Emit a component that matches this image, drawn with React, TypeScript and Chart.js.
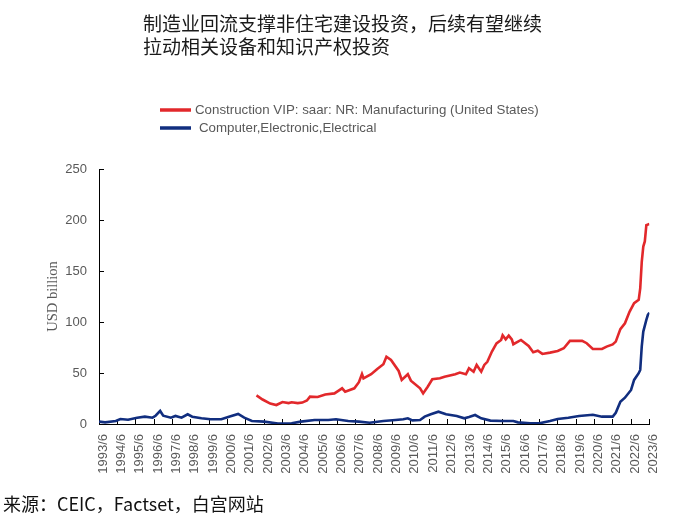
import React, { useEffect, useRef } from "react";
import { Chart, registerables } from "chart.js";

Chart.register(...registerables);

const titleLines = ["制造业回流支撑非住宅建设投资，后续有望继续", "拉动相关设备和知识产权投资"];
const sourceText = "来源：CEIC，Factset，白宫网站";
const yAxisTitle = "USD billion";
const seriesNames = [
  "Construction VIP: saar: NR: Manufacturing (United States)",
  "Computer,Electronic,Electrical",
];

const xTickLabels = [
  "1993/6", "1994/6", "1995/6", "1996/6", "1997/6", "1998/6", "1999/6", "2000/6",
  "2001/6", "2002/6", "2003/6", "2004/6", "2005/6", "2006/6", "2007/6", "2008/6",
  "2009/6", "2010/6", "2011/6", "2012/6", "2013/6", "2014/6", "2015/6", "2016/6",
  "2017/6", "2018/6", "2019/6", "2020/6", "2021/6", "2022/6", "2023/6",
];
const yTicks = [0, 50, 100, 150, 200, 250];

const redDates = [
  "2002/1", "2002/5", "2002/10", "2003/2", "2003/6", "2003/10", "2003/12", "2004/4", "2004/7", "2004/10",
  "2004/12", "2005/5", "2005/10", "2006/4", "2006/7", "2006/9", "2006/11", "2007/5", "2007/8", "2007/10",
  "2007/11", "2008/4", "2008/8", "2008/12", "2009/2", "2009/5", "2009/10", "2009/12", "2010/4", "2010/6",
  "2010/12", "2011/2", "2011/5", "2011/8", "2012/1", "2012/4", "2012/11", "2013/2", "2013/6", "2013/8",
  "2013/11", "2014/1", "2014/4", "2014/6", "2014/8", "2014/11", "2015/2", "2015/5", "2015/6", "2015/8",
  "2015/10", "2015/12", "2016/1", "2016/6", "2016/11", "2017/2", "2017/5", "2017/8", "2018/1", "2018/6",
  "2018/10", "2019/2", "2019/10", "2020/1", "2020/5", "2020/11", "2021/2", "2021/6", "2021/8", "2021/11",
  "2022/2", "2022/5", "2022/8", "2022/11", "2022/12", "2023/1", "2023/2", "2023/3", "2023/4", "2023/6",
];
const redValues = [
  28, 24, 20, 18.6, 21.5, 20.5, 21.3, 20.5, 21, 23,
  26.8, 26.5, 29, 30, 33, 35, 31.7, 35, 41, 49,
  44.8, 48.8, 54, 58.6, 66, 62.8, 52, 43.2, 48.8, 42.5,
  35, 30, 36.6, 43.9, 44.8, 46.4, 48.8, 50.4, 48.8, 54.6,
  51.3, 57.9, 51.3, 57.9, 61, 71, 79, 82.4, 87, 83,
  86.7, 83, 78.2, 82.4, 76.5, 70.4, 71.9, 68.7, 70, 71.6,
  74.3, 81.5, 81.5, 79.2, 73.6, 73.6, 75.9, 78, 80.8, 93,
  98.8, 110, 118.4, 121.7, 133, 159, 174, 179, 195, 196,
];

const blueDates = [
  "1993/6", "1993/10", "1994/5", "1994/8", "1995/1", "1995/7", "1995/12", "1996/5", "1996/7", "1996/10",
  "1996/12", "1997/5", "1997/8", "1997/12", "1998/4", "1998/7", "1999/1", "1999/7", "2000/2", "2000/7",
  "2001/1", "2001/5", "2001/10", "2002/6", "2003/3", "2003/12", "2004/6", "2005/3", "2005/12", "2006/5",
  "2007/1", "2007/8", "2008/3", "2008/12", "2009/8", "2010/1", "2010/4", "2010/7", "2010/12", "2011/3",
  "2011/7", "2011/12", "2012/5", "2012/12", "2013/5", "2013/8", "2013/12", "2014/4", "2014/10", "2015/6",
  "2016/1", "2016/4", "2016/12", "2017/6", "2018/1", "2018/6", "2019/1", "2019/8", "2020/5", "2020/11",
  "2021/6", "2021/8", "2021/11", "2022/2", "2022/6", "2022/8", "2022/11", "2022/12", "2023/1", "2023/2",
  "2023/4", "2023/5", "2023/6",
];
const blueValues = [
  2.3, 1.6, 2.9, 4.9, 4.2, 6.2, 7.2, 6.2, 8.1, 12.8,
  8.1, 6.2, 7.9, 6.2, 9.5, 7.2, 5.6, 4.6, 4.6, 7.2,
  9.8, 6.2, 2.9, 2.3, 0.5, 0.7, 2.3, 3.9, 3.9, 4.6,
  2.9, 2.3, 1.3, 2.9, 3.9, 4.6, 5.6, 3.6, 3.9, 7.2,
  9.5, 12.1, 9.5, 7.9, 5.6, 6.9, 8.8, 5.6, 3.3, 2.9,
  2.9, 1.6, 0.7, 0.7, 2.9, 4.9, 6.2, 7.9, 9, 7.2,
  7.2, 11, 21.9, 25.8, 33.4, 43.2, 49.8, 53, 76, 90.6,
  102, 107, 109.2,
];

const RED = "#e2282b";
const BLUE = "#112e7f";
const GRAY = "#595959";
const SANS = "'Liberation Sans', Arial, sans-serif";
const CJK = "'Noto Sans CJK SC', sans-serif";

function monthIndex(s: string): number {
  const [y, m] = s.split("/").map(Number);
  return (y - 1993) * 12 + (m - 6);
}

function toPoints(dates: string[], values: number[]) {
  return dates.map((d, i) => ({ x: monthIndex(d), y: values[i] }));
}

const stackedLegend = {
  id: "stackedLegend",
  afterDraw(chart: any, _args: any, opts: any) {
    const ctx = chart.ctx;
    chart.data.datasets.forEach((ds: any, i: number) => {
      const y = opts.y + i * opts.rowGap;
      ctx.save();
      ctx.strokeStyle = ds.borderColor;
      ctx.lineWidth = 3.5;
      ctx.beginPath();
      ctx.moveTo(opts.x, y);
      ctx.lineTo(opts.x + opts.len, y);
      ctx.stroke();
      ctx.fillStyle = GRAY;
      ctx.font = opts.font;
      ctx.textBaseline = "middle";
      ctx.textAlign = "left";
      ctx.fillText(ds.label, opts.x + opts.len + opts.gaps[i], y);
      ctx.restore();
    });
  },
};

export default function App() {
  const canvasRef = useRef<HTMLCanvasElement | null>(null);

  useEffect(() => {
    const canvas = canvasRef.current;
    if (!canvas) return;
    const chart = new Chart(canvas, {
      type: "line",
      data: {
        datasets: [
          {
            label: seriesNames[0],
            data: toPoints(redDates, redValues),
            borderColor: RED,
            backgroundColor: RED,
            borderWidth: 2.6,
            pointRadius: 0,
            tension: 0,
          },
          {
            label: seriesNames[1],
            data: toPoints(blueDates, blueValues),
            borderColor: BLUE,
            backgroundColor: BLUE,
            borderWidth: 2.6,
            pointRadius: 0,
            tension: 0,
          },
        ],
      },
      plugins: [stackedLegend],
      options: {
        responsive: false,
        animation: false,
        devicePixelRatio: 1,
        layout: { padding: { left: 0, right: 30, top: 169, bottom: 37 } },
        plugins: {
          legend: { display: false },
          tooltip: { enabled: false },
          title: { display: false },
          stackedLegend: {
            x: 160,
            y: 110,
            rowGap: 18,
            len: 31,
            gaps: [4, 8],
            font: `13.3px ${SANS}`,
          },
        } as any,
        scales: {
          x: {
            type: "linear",
            min: monthIndex(xTickLabels[0]),
            max: monthIndex(xTickLabels[xTickLabels.length - 1]),
            afterBuildTicks: (axis: any) => {
              axis.ticks = xTickLabels.map((l) => ({ value: monthIndex(l) }));
            },
            afterFit: (axis: any) => {
              axis.height = 60;
            },
            ticks: {
              autoSkip: false,
              minRotation: 90,
              maxRotation: 90,
              padding: 15,
              labelOffset: 4,
              color: GRAY,
              font: { family: SANS, size: 13 },
              callback: (_v: any, i: number) => xTickLabels[i],
            },
            grid: { drawOnChartArea: false, tickLength: -5, color: "#000", lineWidth: 1 },
            border: { color: "#000", width: 1 },
          },
          y: {
            min: yTicks[0],
            max: yTicks[yTicks.length - 1],
            afterBuildTicks: (axis: any) => {
              axis.ticks = yTicks.map((v) => ({ value: v }));
            },
            afterFit: (axis: any) => {
              axis.width = 99;
            },
            ticks: {
              padding: 17,
              color: GRAY,
              font: { family: SANS, size: 13 },
            },
            grid: { drawOnChartArea: false, tickLength: -5, color: "#000", lineWidth: 1 },
            border: { color: "#000", width: 1 },
            title: {
              display: true,
              text: yAxisTitle,
              color: GRAY,
              font: { family: "'Liberation Serif', serif", size: 14.5 },
              padding: { top: 44, bottom: 0 },
            },
          },
        },
      } as any,
    });
    return () => chart.destroy();
  }, []);

  return (
    <div style={{ position: "absolute", left: 0, top: 0, width: 680, height: 521, background: "#fff", overflow: "hidden" }}>
      <canvas ref={canvasRef} width={680} height={521} style={{ position: "absolute", left: 0, top: 0, width: 680, height: 521 }} />
      <div
        style={{
          position: "absolute",
          left: 143,
          top: 11,
          fontFamily: CJK,
          fontSize: 19,
          lineHeight: "23px",
          color: "#1a1a1a",
          whiteSpace: "nowrap",
        }}
      >
        {titleLines.map((l, i) => (
          <div key={i}>{l}</div>
        ))}
      </div>
      <div
        style={{
          position: "absolute",
          left: 3,
          top: 491,
          fontFamily: CJK,
          fontSize: 18,
          lineHeight: "24px",
          color: "#111",
          whiteSpace: "nowrap",
        }}
      >
        {sourceText}
      </div>
    </div>
  );
}
